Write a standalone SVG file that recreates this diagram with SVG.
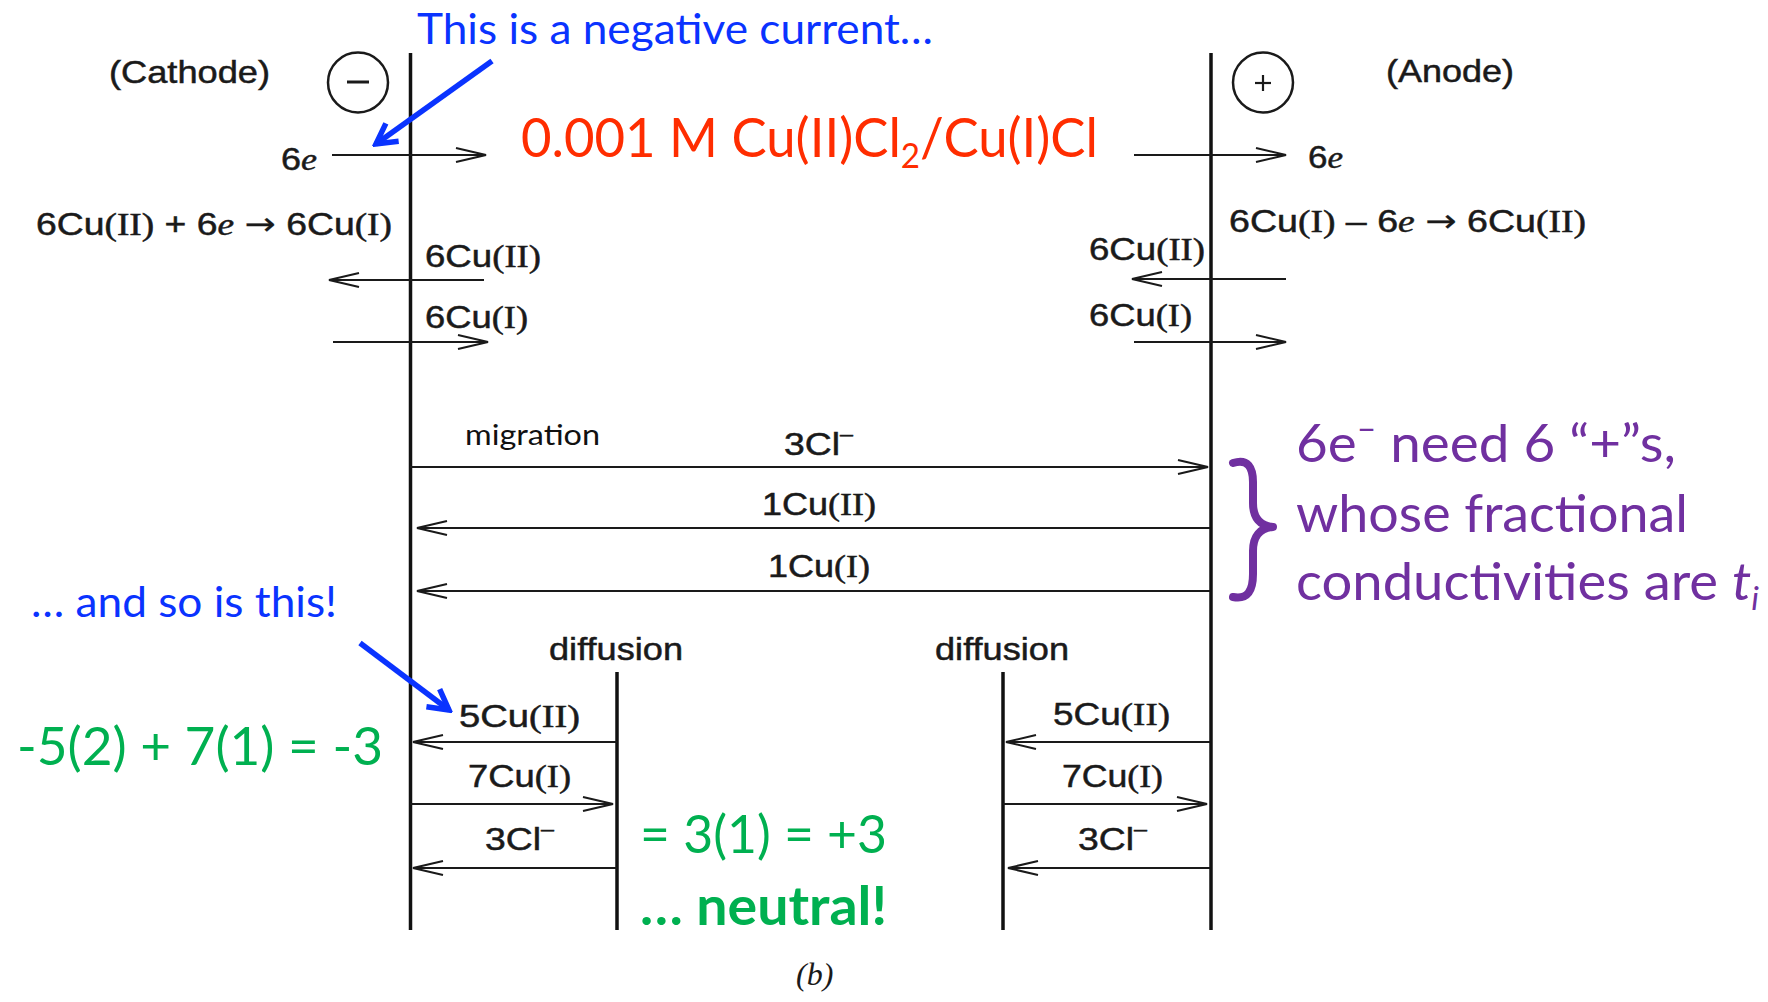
<svg xmlns="http://www.w3.org/2000/svg" width="1768" height="1002" viewBox="0 0 1768 1002">
<style>
.lbl{font-family:"Liberation Sans",Arial,sans-serif;font-size:32px;fill:#1a1a1a;stroke:#1a1a1a;stroke-width:0.5}
.rn{font-family:"Liberation Serif","Times New Roman",serif}
.it{font-family:"Liberation Serif","Times New Roman",serif;font-style:italic}
.arw{font-family:"DejaVu Sans",sans-serif;stroke-width:0.2}
.el{stroke:#111;stroke-width:3.5;fill:none}
.ar{stroke:#1a1a1a;stroke-width:2.2;fill:none;marker-end:url(#ah)}
.cal{font-family:Lato,"Open Sans",sans-serif}
.blue{fill:#0a33ff}
.red{fill:#ff2d00}
.green{fill:#00b050}
.purple{fill:#7030a0}
.barrow{stroke:#0a33ff;stroke-width:5.5;fill:none;marker-end:url(#bh)}
</style>
<defs>
<marker id="ah" viewBox="-34 -10 36 20" refX="0" refY="0" markerWidth="36" markerHeight="20" markerUnits="userSpaceOnUse" orient="auto">
<path d="M-30,-7 L0,0 L-30,7" fill="none" stroke="#1a1a1a" stroke-width="2"/>
</marker>
<marker id="bh" viewBox="-30 -16 34 32" refX="0" refY="0" markerWidth="34" markerHeight="32" markerUnits="userSpaceOnUse" orient="auto">
<path d="M-20,-11 L0,0 L-20,11" fill="none" stroke="#0a33ff" stroke-width="5.5" stroke-linejoin="miter"/>
</marker>
</defs>
<rect width="1768" height="1002" fill="#fff"/>

<g id="electrodes">
<line class="el" x1="410.5" y1="53" x2="410.5" y2="930"/>
<line class="el" x1="1211" y1="53" x2="1211" y2="930"/>
<line class="el" x1="617" y1="672" x2="617" y2="930"/>
<line class="el" x1="1003" y1="672" x2="1003" y2="930"/>
</g>

<g id="cathode-sign">
<circle cx="358" cy="82.5" r="30" fill="none" stroke="#1a1a1a" stroke-width="2.5"/>
<line x1="347" y1="82" x2="369" y2="82" stroke="#1a1a1a" stroke-width="3"/>
</g>
<g id="anode-sign">
<circle cx="1263" cy="82.5" r="30" fill="none" stroke="#1a1a1a" stroke-width="2.5"/>
<line x1="1255" y1="83" x2="1271" y2="83" stroke="#1a1a1a" stroke-width="2.2"/>
<line x1="1263" y1="75" x2="1263" y2="91" stroke="#1a1a1a" stroke-width="2.2"/>
</g>

<g id="connectors">
<line class="ar" x1="332" y1="155" x2="486" y2="155"/>
<line class="ar" x1="1134" y1="155" x2="1286" y2="155"/>
<line class="ar" x1="484" y1="280" x2="329" y2="280"/>
<line class="ar" x1="333" y1="342" x2="488" y2="342"/>
<line class="ar" x1="1286" y1="279" x2="1132" y2="279"/>
<line class="ar" x1="1134" y1="342" x2="1286" y2="342"/>
<line class="ar" x1="410" y1="467" x2="1208" y2="467"/>
<line class="ar" x1="1210" y1="528" x2="417" y2="528"/>
<line class="ar" x1="1210" y1="591" x2="417" y2="591"/>
<line class="ar" x1="617" y1="742" x2="413" y2="742"/>
<line class="ar" x1="410" y1="804" x2="613" y2="804"/>
<line class="ar" x1="617" y1="868" x2="413" y2="868"/>
<line class="ar" x1="1210" y1="742" x2="1006" y2="742"/>
<line class="ar" x1="1003" y1="804" x2="1207" y2="804"/>
<line class="ar" x1="1210" y1="868" x2="1008" y2="868"/>
<line class="barrow" x1="492" y1="61" x2="376" y2="144"/>
<line class="barrow" x1="360" y1="643" x2="449" y2="710"/>
</g>

<g id="labels">
<text class="lbl" x="109" y="83" textLength="161" lengthAdjust="spacingAndGlyphs">(Cathode)</text>
<text class="lbl" x="1386" y="82" textLength="128" lengthAdjust="spacingAndGlyphs">(Anode)</text>
<text class="lbl" x="281" y="170" textLength="36" lengthAdjust="spacingAndGlyphs">6<tspan class="it">e</tspan></text>
<text class="lbl" x="1308" y="168" textLength="35" lengthAdjust="spacingAndGlyphs">6<tspan class="it">e</tspan></text>
<text class="lbl" x="36" y="235" textLength="356" lengthAdjust="spacingAndGlyphs">6Cu<tspan class="rn">(II)</tspan> + 6<tspan class="it">e</tspan> <tspan class="arw">→</tspan> 6Cu<tspan class="rn">(I)</tspan></text>
<text class="lbl" x="1229" y="232" textLength="357" lengthAdjust="spacingAndGlyphs">6Cu<tspan class="rn">(I)</tspan> – 6<tspan class="it">e</tspan> <tspan class="arw">→</tspan> 6Cu<tspan class="rn">(II)</tspan></text>
<text class="lbl" x="425" y="267" textLength="116" lengthAdjust="spacingAndGlyphs">6Cu<tspan class="rn">(II)</tspan></text>
<text class="lbl" x="425" y="328" textLength="103" lengthAdjust="spacingAndGlyphs">6Cu<tspan class="rn">(I)</tspan></text>
<text class="lbl" x="1089" y="260" textLength="116" lengthAdjust="spacingAndGlyphs">6Cu<tspan class="rn">(II)</tspan></text>
<text class="lbl" x="1089" y="326" textLength="103" lengthAdjust="spacingAndGlyphs">6Cu<tspan class="rn">(I)</tspan></text>
<text class="cal" x="465" y="445" font-size="28" fill="#111" textLength="135" lengthAdjust="spacingAndGlyphs">migration</text>
<text class="lbl" x="784" y="455" textLength="69" lengthAdjust="spacingAndGlyphs">3Cl<tspan font-size="20" dy="-14">–</tspan></text>
<text class="lbl" x="762" y="515" textLength="114" lengthAdjust="spacingAndGlyphs">1Cu<tspan class="rn">(II)</tspan></text>
<text class="lbl" x="768" y="577" textLength="102" lengthAdjust="spacingAndGlyphs">1Cu<tspan class="rn">(I)</tspan></text>
<text class="lbl" x="549" y="660" textLength="134" lengthAdjust="spacingAndGlyphs">diffusion</text>
<text class="lbl" x="935" y="660" textLength="134" lengthAdjust="spacingAndGlyphs">diffusion</text>
<text class="lbl" x="459" y="727" textLength="121" lengthAdjust="spacingAndGlyphs">5Cu<tspan class="rn">(II)</tspan></text>
<text class="lbl" x="468" y="787" textLength="103" lengthAdjust="spacingAndGlyphs">7Cu<tspan class="rn">(I)</tspan></text>
<text class="lbl" x="485" y="850" textLength="69" lengthAdjust="spacingAndGlyphs">3Cl<tspan font-size="20" dy="-14">–</tspan></text>
<text class="lbl" x="1053" y="725" textLength="117" lengthAdjust="spacingAndGlyphs">5Cu<tspan class="rn">(II)</tspan></text>
<text class="lbl" x="1062" y="787" textLength="101" lengthAdjust="spacingAndGlyphs">7Cu<tspan class="rn">(I)</tspan></text>
<text class="lbl" x="1078" y="850" textLength="69" lengthAdjust="spacingAndGlyphs">3Cl<tspan font-size="20" dy="-14">–</tspan></text>
<text class="it" x="796" y="985" font-size="32" fill="#1a1a1a">(b)</text>
</g>

<g id="annotations">
<text class="cal blue" x="417" y="44" font-size="42" textLength="516" lengthAdjust="spacingAndGlyphs">This is a negative current…</text>
<text class="cal blue" x="31" y="617" font-size="42" textLength="306" lengthAdjust="spacingAndGlyphs">… and so is this!</text>
<text class="cal red" x="521" y="157" font-size="54" textLength="577" lengthAdjust="spacingAndGlyphs">0.001 M Cu(II)Cl<tspan font-size="34" dy="11">2</tspan><tspan dy="-11">/Cu(I)Cl</tspan></text>
<text class="cal purple" x="1296" y="462" font-size="52" textLength="380" lengthAdjust="spacingAndGlyphs">6e<tspan font-size="32" dy="-22">–</tspan><tspan dy="22"> need 6 “+”s,</tspan></text>
<text class="cal purple" x="1296" y="532" font-size="52" textLength="392" lengthAdjust="spacingAndGlyphs">whose fractional</text>
<text class="cal purple" x="1296" y="600" font-size="52" textLength="463" lengthAdjust="spacingAndGlyphs">conductivities are <tspan font-style="italic">t</tspan><tspan font-style="italic" font-size="32" dy="10">i</tspan></text>
<path d="M1233,463 C1248,458 1253,468 1253,482 L1253,503 C1253,518 1260,526 1273,527 C1260,528 1253,536 1253,551 L1253,574 C1253,590 1248,600 1233,597" fill="none" stroke="#7030a0" stroke-width="8" stroke-linecap="round" stroke-linejoin="round"/>
<text class="cal green" x="17" y="765" font-size="53" textLength="366" lengthAdjust="spacingAndGlyphs">-5(2) + 7(1) = -3</text>
<text class="cal green" x="640" y="853" font-size="53" textLength="247" lengthAdjust="spacingAndGlyphs">= 3(1) = +3</text>
<text class="cal green" x="640" y="925" font-size="53" font-weight="bold" textLength="247" lengthAdjust="spacingAndGlyphs">… neutral!</text>
</g>
</svg>
